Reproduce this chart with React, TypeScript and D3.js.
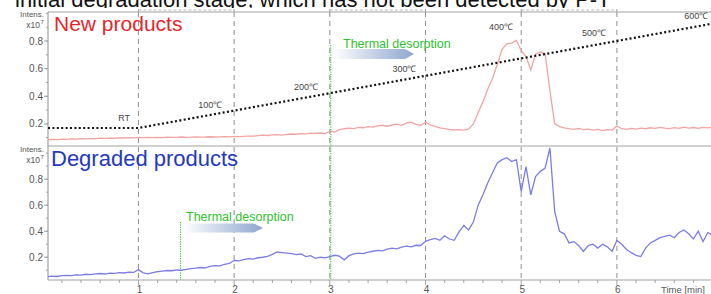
import * as d3 from 'd3';

// sampled every 0.05 min, starting at 0.05 min
const sampleStep = 0.05;
const newProducts = [
  0.085, 0.087, 0.086, 0.089, 0.088, 0.091, 0.090, 0.093, 0.092, 0.094, 0.093, 0.096, 0.095, 0.097, 0.096, 0.099, 0.098, 0.100, 0.099, 0.103,
  0.100, 0.102, 0.101, 0.103, 0.101, 0.104, 0.102, 0.103, 0.105, 0.103, 0.104, 0.106, 0.104, 0.105, 0.107, 0.105, 0.106, 0.108, 0.106, 0.109,
  0.108, 0.110, 0.112, 0.111, 0.115, 0.118, 0.116, 0.120, 0.122, 0.119, 0.124, 0.127, 0.125, 0.130, 0.128, 0.133, 0.131, 0.134, 0.130, 0.148,
  0.140, 0.158, 0.165, 0.170, 0.166, 0.175, 0.172, 0.180, 0.176, 0.185, 0.190, 0.183, 0.192, 0.198, 0.190, 0.205, 0.212, 0.196, 0.190, 0.212,
  0.192, 0.182, 0.172, 0.165, 0.160, 0.156, 0.158, 0.155, 0.162, 0.200, 0.280, 0.360, 0.450, 0.530, 0.630, 0.740, 0.780, 0.785, 0.805, 0.730,
  0.690, 0.590, 0.705, 0.720, 0.710, 0.440, 0.200, 0.180, 0.172, 0.165, 0.160, 0.168, 0.158, 0.162, 0.155, 0.160, 0.152, 0.158, 0.155, 0.185,
  0.165, 0.160, 0.168, 0.162, 0.170, 0.165, 0.172, 0.168, 0.175, 0.170, 0.166, 0.173, 0.168, 0.176, 0.170, 0.174, 0.168, 0.175, 0.171, 0.176,
];
const degradedProducts = [
  0.050, 0.054, 0.052, 0.058, 0.061, 0.059, 0.065, 0.063, 0.069, 0.067, 0.072, 0.075, 0.071, 0.078, 0.076, 0.082, 0.079, 0.085, 0.083, 0.105,
  0.080, 0.072, 0.082, 0.090, 0.094, 0.098, 0.096, 0.102, 0.100, 0.106, 0.112, 0.116, 0.121, 0.118, 0.130, 0.136, 0.133, 0.146, 0.152, 0.175,
  0.172, 0.182, 0.190, 0.186, 0.196, 0.200, 0.206, 0.222, 0.240, 0.236, 0.232, 0.228, 0.220, 0.225, 0.205, 0.212, 0.192, 0.200, 0.195, 0.205,
  0.215, 0.208, 0.180, 0.212, 0.225, 0.232, 0.228, 0.240, 0.246, 0.252, 0.249, 0.262, 0.270, 0.264, 0.278, 0.285, 0.280, 0.292, 0.290, 0.322,
  0.335, 0.345, 0.330, 0.365, 0.340, 0.330, 0.395, 0.445, 0.410, 0.470, 0.600, 0.680, 0.770, 0.850, 0.925, 0.950, 0.965, 0.935, 0.950, 0.705,
  0.897, 0.680, 0.820, 0.860, 0.885, 1.040, 0.550, 0.400, 0.380, 0.310, 0.320, 0.290, 0.245, 0.290, 0.300, 0.270, 0.300, 0.280, 0.245, 0.330,
  0.300, 0.260, 0.235, 0.215, 0.205, 0.270, 0.310, 0.330, 0.350, 0.360, 0.370, 0.350, 0.390, 0.410, 0.380, 0.340, 0.400, 0.320, 0.390, 0.370,
];

// temperature program (min, °C)
const tempTimes = [0.055, 1, 7.2];
const tempValues = [25, 25, 645];
const tempLabels = ['RT', '100℃', '200℃', '300℃', '400℃', '500℃', '600℃'];
const tempLabelTimes = [0.85, 1.75, 2.75, 3.78, 4.79, 5.76, 6.83];
const tempLabelLift = [7, 7, 8, 8, 32, 9, 8];

const xTicks = [1, 2, 3, 4, 5, 6];
const yTicks = [0.2, 0.4, 0.6, 0.8];
const headline = 'initial degradation stage, which has not been detected by P-T';

const W = 711;
const H = 294;
const left = 48;
const topY = 12;
const midY = 146;
const bottomY = 280;

const x = d3.scaleLinear().domain([0.055, 7]).range([left, 712.6]);
const yTop = d3.scaleLinear().domain([0.04, 1.01]).range([midY, topY]);
const yBot = d3.scaleLinear().domain([0.025, 1.055]).range([bottomY, midY]);
const yTemp = d3.scaleLinear().domain([25, 625]).range([128, 23.6]);

const tempAt = d3.scaleLinear().domain(tempTimes).range(tempValues);

const axisGray = '#a2a2a2';
const labelGray = '#555';
const green = '#2fbf2f';
const font = '"Liberation Sans", Arial, sans-serif';

type Pt = [number, number];

const toPoints = (vals: number[]): Pt[] => vals.map((v, i) => [sampleStep * (i + 1), v]);

function Arrow({ x0, x1, y, h, id }: { x0: number; x1: number; y: number; h: number; id: string }) {
  const tip = 9;
  const d = `M${x0},${y - h / 2} L${x1 - tip},${y - h / 2} L${x1},${y} L${x1 - tip},${y + h / 2} L${x0},${y + h / 2} Z`;
  return <path d={d} fill={`url(#${id})`} />;
}

function YAxis({ scale, labelY }: { scale: d3.ScaleLinear<number, number>; labelY: number }) {
  const minor = d3.range(0.1, 1.01, 0.1).filter((v) => scale(v) >= scale.range()[1] - 0.5);
  return (
    <g fontFamily={font}>
      {minor.map((v) => (
        <line key={'m' + v} x1={left - 2} x2={left} y1={scale(v)} y2={scale(v)} stroke={axisGray} />
      ))}
      {yTicks.map((v) => (
        <g key={v}>
          <line x1={left - 4} x2={left} y1={scale(v)} y2={scale(v)} stroke={axisGray} />
          <text x={left - 5} y={scale(v) + 3.5} textAnchor="end" fontSize={10} fill={labelGray}>
            {v.toFixed(1)}
          </text>
        </g>
      ))}
      <text x={44} y={labelY} textAnchor="end" fontSize={8} fill={labelGray}>Intens.</text>
      <text x={40} y={labelY + 11} textAnchor="end" fontSize={8.5} fill={labelGray}>x10</text>
      <text x={40.5} y={labelY + 7} fontSize={6} fill={labelGray}>7</text>
    </g>
  );
}

export default function App() {
  const line = (ys: d3.ScaleLinear<number, number>) =>
    d3.line<Pt>().x((d) => x(d[0])).y((d) => ys(d[1]));

  const newPts = toPoints(newProducts);
  const degPts = toPoints(degradedProducts);
  const tempPts: Pt[] = tempTimes.map((t, i) => [t, tempValues[i]]);
  const tempLine = d3.line<Pt>().x((d) => x(d[0])).y((d) => yTemp(d[1]));

  const minorX = d3.range(0.2, 7.01, 0.2).filter((t) => Math.abs(t - Math.round(t)) > 0.01);

  return (
    <svg
      width={W}
      height={H}
      style={{ position: 'absolute', left: 0, top: 0, background: '#fff' }}
      fontFamily={font}
    >
      <defs>
        <linearGradient id="arrowGrad" x1="0" x2="1" y1="0" y2="0">
          <stop offset="0" stopColor="#ffffff" />
          <stop offset="1" stopColor="#8ea6cf" />
        </linearGradient>
        <clipPath id="plotClip">
          <rect x={left} y={topY} width={W - left} height={bottomY - topY} />
        </clipPath>
      </defs>

      {/* cropped slide text above the chart */}
      <text x={15} y={7} fontSize={22} fill="#111">{headline}</text>
      <rect x={0} y={8} width={W} height={H - 8} fill="#fff" />

      {/* dashed band marks above the frame */}
      {[[1, 2], [3, 4], [5, 6]].map(([a, b]) => (
        <line key={a} x1={x(a)} x2={x(b)} y1={10} y2={10} stroke="#bbb" strokeDasharray="3,2" />
      ))}

      {/* grid */}
      {xTicks.map((t) => (
        <line key={t} x1={x(t)} x2={x(t)} y1={topY} y2={bottomY} stroke="#8f8f8f" strokeDasharray="5,4" />
      ))}
      {xTicks.map((t) => (
        <line key={'tt' + t} x1={x(t)} x2={x(t)} y1={topY - 3} y2={topY} stroke={axisGray} />
      ))}

      {/* frame */}
      <line x1={left} x2={W} y1={topY} y2={topY} stroke={axisGray} strokeWidth={1.2} />
      <line x1={left} x2={W} y1={midY} y2={midY} stroke={axisGray} strokeWidth={1.2} />
      <line x1={left} x2={W} y1={bottomY} y2={bottomY} stroke={axisGray} strokeWidth={1.2} />
      <line x1={left} x2={left} y1={topY} y2={bottomY} stroke={axisGray} strokeWidth={1.2} />

      <YAxis scale={yTop} labelY={17} />
      <YAxis scale={yBot} labelY={152} />

      {/* x axis */}
      {minorX.map((t) => (
        <line key={'mx' + t} x1={x(t)} x2={x(t)} y1={bottomY} y2={bottomY + 3} stroke={axisGray} />
      ))}
      {xTicks.map((t) => (
        <g key={'xl' + t}>
          <line x1={x(t)} x2={x(t)} y1={bottomY} y2={bottomY + 5} stroke={axisGray} />
          <text x={x(t) + 1} y={293} textAnchor="middle" fontSize={10} fill={labelGray}>{t}</text>
        </g>
      ))}
      <text x={661} y={293} fontSize={9.5} fill={labelGray}>Time [min]</text>

      {/* series */}
      <g clipPath="url(#plotClip)">
        <path d={line(yTop)(newPts) ?? ''} fill="none" stroke="#f0a4a4" strokeWidth={1.3} />
        <path d={line(yBot)(degPts) ?? ''} fill="none" stroke="#7b7de6" strokeWidth={1.3} />
        <path
          d={tempLine(tempPts) ?? ''}
          fill="none"
          stroke="#111"
          strokeWidth={2.2}
          strokeDasharray="2,2.4"
        />
      </g>

      {tempLabels.map((s, i) => (
        <text
          key={s}
          x={x(tempLabelTimes[i])}
          y={yTemp(tempAt(tempLabelTimes[i])) - tempLabelLift[i]}
          textAnchor="middle"
          fontSize={9}
          fill="#444"
        >
          {s}
        </text>
      ))}

      {/* thermal desorption markers */}
      <line x1={x(3.01)} x2={x(3.01)} y1={45} y2={bottomY} stroke={green} strokeDasharray="1.2,1.2" />
      <Arrow x0={333} x1={414} y={54} h={10} id="arrowGrad" />
      <text x={343} y={48} fontSize={12.5} fill={green}>Thermal desorption</text>

      <line x1={x(1.44)} x2={x(1.44)} y1={222} y2={bottomY} stroke={green} strokeDasharray="1.2,1.2" />
      <Arrow x0={183} x1={263} y={228} h={9} id="arrowGrad" />
      <text x={186} y={221} fontSize={12.5} fill={green}>Thermal desorption</text>

      {/* panel titles */}
      <text x={54} y={31} fontSize={21} fill="#e8262a">New products</text>
      <text x={51} y={166} fontSize={22} fill="#2438c0">Degraded products</text>
    </svg>
  );
}
